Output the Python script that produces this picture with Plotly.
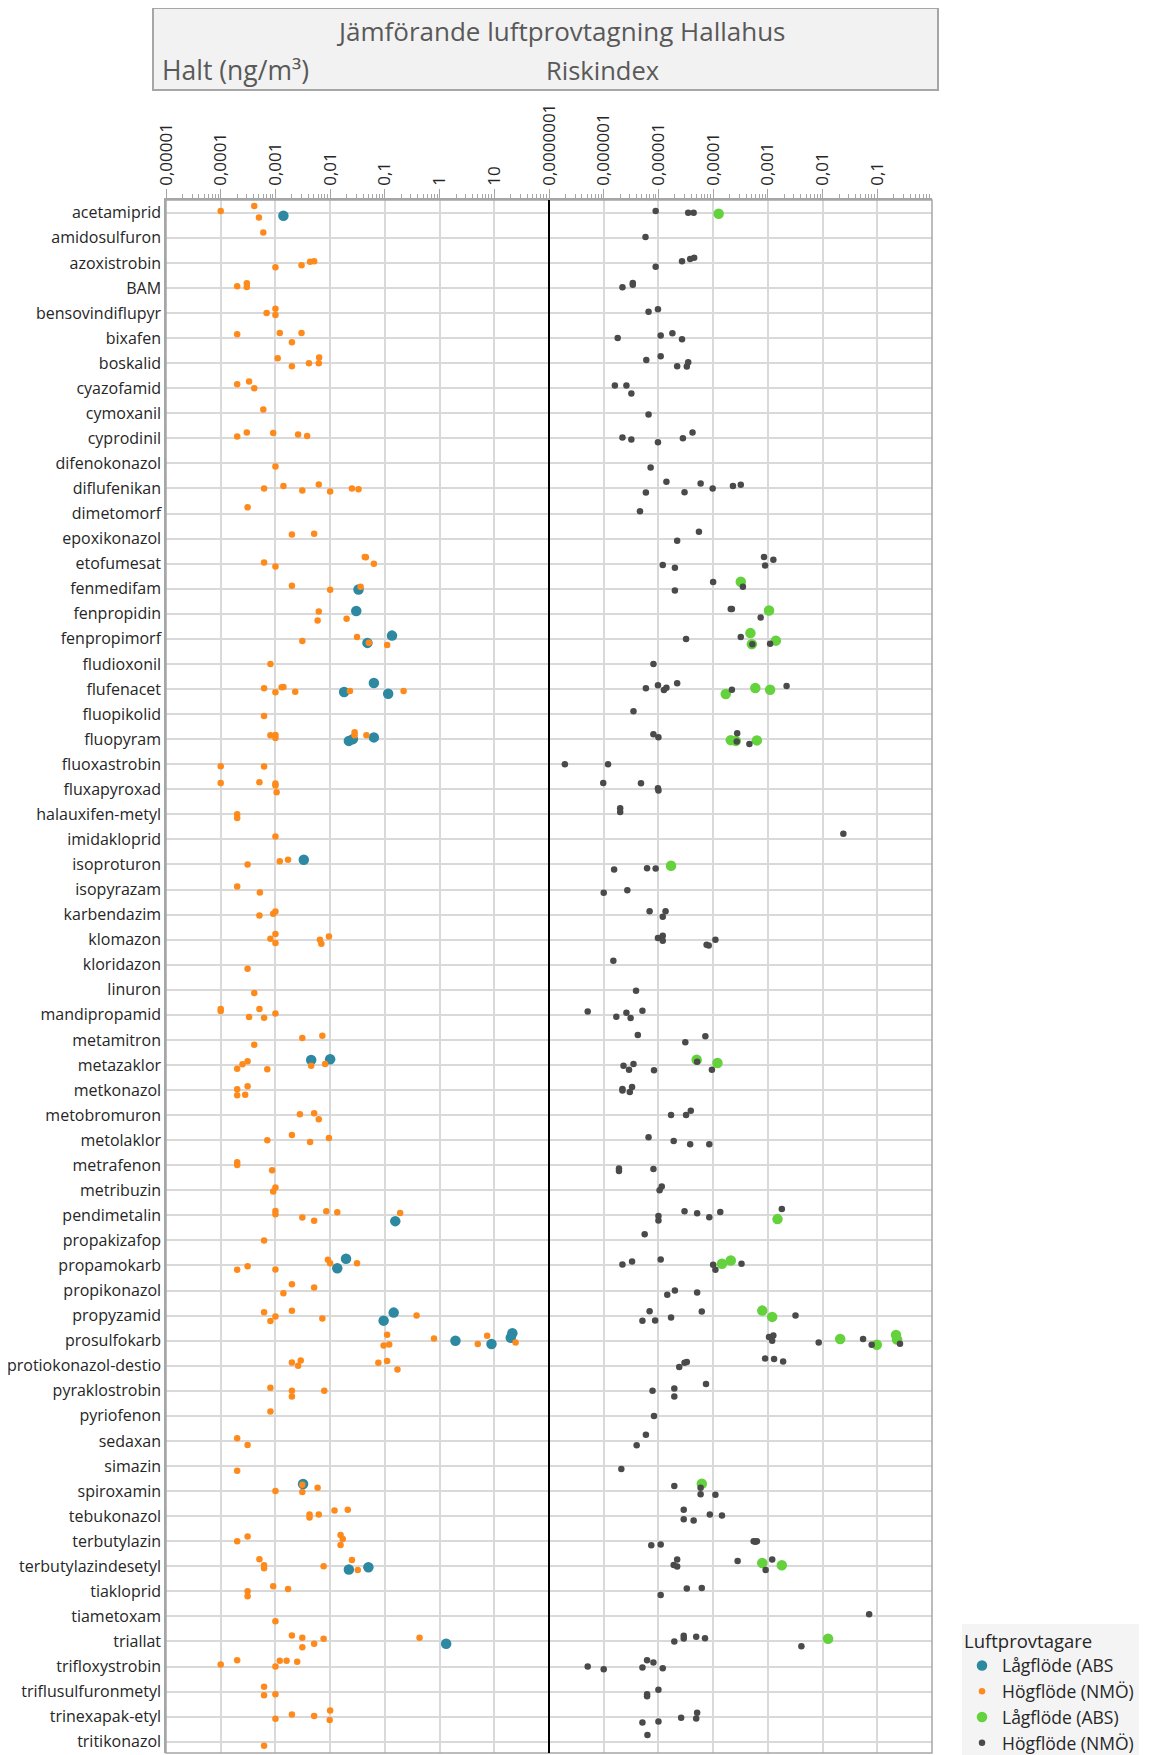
import plotly.graph_objects as go

categories = [
    "acetamiprid", "amidosulfuron", "azoxistrobin", "BAM", "bensovindiflupyr", "bixafen",
    "boskalid", "cyazofamid", "cymoxanil", "cyprodinil", "difenokonazol", "diflufenikan",
    "dimetomorf", "epoxikonazol", "etofumesat", "fenmedifam", "fenpropidin", "fenpropimorf",
    "fludioxonil", "flufenacet", "fluopikolid", "fluopyram", "fluoxastrobin", "fluxapyroxad",
    "halauxifen-metyl", "imidakloprid", "isoproturon", "isopyrazam", "karbendazim", "klomazon",
    "kloridazon", "linuron", "mandipropamid", "metamitron", "metazaklor", "metkonazol",
    "metobromuron", "metolaklor", "metrafenon", "metribuzin", "pendimetalin", "propakizafop",
    "propamokarb", "propikonazol", "propyzamid", "prosulfokarb", "protiokonazol-destio",
    "pyraklostrobin", "pyriofenon", "sedaxan", "simazin", "spiroxamin", "tebukonazol",
    "terbutylazin", "terbutylazindesetyl", "tiakloprid", "tiametoxam", "triallat",
    "trifloxystrobin", "triflusulfuronmetyl", "trinexapak-etyl", "tritikonazol",
]

# (substance, value, vertical jitter within the row)
# Halt (ng/m3) - Lågflöde (ABS)
halt_lagflode = [
    ("acetamiprid", 1.4e-3, 0.12),
    ("fenmedifam", 3.3e-2, 0.03),
    ("fenpropidin", 3.0e-2, -0.11),
    ("fenpropimorf", 4.8e-2, 0.16), ("fenpropimorf", 0.135, -0.13),
    ("flufenacet", 1.8e-2, 0.12), ("flufenacet", 6.3e-2, -0.24), ("flufenacet", 0.115, 0.19),
    ("fluopyram", 2.2e-2, 0.07), ("fluopyram", 2.6e-2, 0.0), ("fluopyram", 6.3e-2, -0.07),
    ("isoproturon", 3.3e-3, -0.19),
    ("metazaklor", 4.5e-3, -0.20), ("metazaklor", 1.0e-2, -0.23),
    ("pendimetalin", 0.155, 0.23),
    ("propamokarb", 1.35e-2, 0.11), ("propamokarb", 1.95e-2, -0.27),
    ("propyzamid", 9.5e-2, 0.20), ("propyzamid", 0.145, -0.12),
    ("prosulfokarb", 1.95, 0.0), ("prosulfokarb", 8.9, 0.13), ("prosulfokarb", 21.4, -0.30),
    ("prosulfokarb", 20.0, -0.12),
    ("spiroxamin", 3.2e-3, -0.28),
    ("terbutylazindesetyl", 2.2e-2, 0.13), ("terbutylazindesetyl", 5.0e-2, 0.04),
    ("triallat", 1.32, 0.09),
]

# Halt (ng/m3) - Högflöde (NMÖ)
halt_hogflode = [
    ("acetamiprid", 1.0e-4, -0.07), ("acetamiprid", 4.1e-4, -0.27), ("acetamiprid", 5.0e-4, 0.19),
    ("amidosulfuron", 6.0e-4, -0.21),
    ("azoxistrobin", 1.0e-3, 0.17), ("azoxistrobin", 3.0e-3, 0.09), ("azoxistrobin", 4.3e-3, -0.05),
    ("azoxistrobin", 5.1e-3, -0.07),
    ("BAM", 2.0e-4, -0.07), ("BAM", 3.0e-4, -0.19), ("BAM", 3.0e-4, -0.04),
    ("bensovindiflupyr", 1.0e-3, -0.17), ("bensovindiflupyr", 6.9e-4, 0.0), ("bensovindiflupyr", 1.0e-3, 0.08),
    ("bixafen", 2.0e-4, -0.15), ("bixafen", 1.2e-3, -0.20), ("bixafen", 3.0e-3, -0.20), ("bixafen", 2.0e-3, 0.17),
    ("boskalid", 1.1e-3, -0.20), ("boskalid", 6.3e-3, -0.23), ("boskalid", 4.1e-3, 0.0),
    ("boskalid", 6.2e-3, 0.0), ("boskalid", 2.0e-3, 0.12),
    ("cyazofamid", 2.0e-4, -0.16), ("cyazofamid", 3.3e-4, -0.27), ("cyazofamid", 4.1e-4, 0.0),
    ("cymoxanil", 6.0e-4, -0.15),
    ("cyprodinil", 2.0e-4, -0.07), ("cyprodinil", 3.0e-4, -0.23), ("cyprodinil", 9.1e-4, -0.21),
    ("cyprodinil", 2.6e-3, -0.15), ("cyprodinil", 3.8e-3, -0.09),
    ("difenokonazol", 1.0e-3, 0.12),
    ("diflufenikan", 6.2e-4, 0.0), ("diflufenikan", 1.4e-3, -0.10), ("diflufenikan", 3.1e-3, 0.08),
    ("diflufenikan", 6.2e-3, -0.16), ("diflufenikan", 1.0e-2, 0.12), ("diflufenikan", 2.5e-2, 0.0),
    ("diflufenikan", 3.3e-2, 0.03),
    ("dimetomorf", 3.1e-4, -0.25),
    ("epoxikonazol", 2.0e-3, -0.16), ("epoxikonazol", 5.1e-3, -0.19),
    ("etofumesat", 6.2e-4, -0.05), ("etofumesat", 1.0e-3, 0.11), ("etofumesat", 4.3e-2, -0.27),
    ("etofumesat", 4.5e-2, -0.26), ("etofumesat", 6.3e-2, 0.0),
    ("fenmedifam", 2.0e-3, -0.12), ("fenmedifam", 1.0e-2, 0.04), ("fenmedifam", 3.6e-2, -0.08),
    ("fenpropidin", 6.2e-3, -0.09), ("fenpropidin", 5.9e-3, 0.27), ("fenpropidin", 2.0e-2, 0.20),
    ("fenpropimorf", 3.1e-3, 0.08), ("fenpropimorf", 3.1e-2, -0.08), ("fenpropimorf", 5.1e-2, 0.15),
    ("fenpropimorf", 0.11, 0.24),
    ("fludioxonil", 8.1e-4, 0.0),
    ("flufenacet", 6.2e-4, -0.03), ("flufenacet", 1.0e-3, 0.13), ("flufenacet", 1.3e-3, -0.07),
    ("flufenacet", 1.4e-3, -0.08), ("flufenacet", 2.3e-3, 0.11), ("flufenacet", 2.3e-2, 0.08),
    ("flufenacet", 0.22, 0.08),
    ("fluopikolid", 6.2e-4, 0.08),
    ("fluopyram", 8.1e-4, -0.16), ("fluopyram", 1.0e-3, -0.17), ("fluopyram", 1.0e-3, -0.05),
    ("fluopyram", 2.8e-2, -0.27), ("fluopyram", 2.8e-2, -0.16), ("fluopyram", 4.6e-2, -0.16),
    ("fluoxastrobin", 1.0e-4, 0.08), ("fluoxastrobin", 6.2e-4, 0.09),
    ("fluxapyroxad", 1.0e-4, -0.25), ("fluxapyroxad", 5.1e-4, -0.28), ("fluxapyroxad", 1.0e-3, -0.23),
    ("fluxapyroxad", 1.0e-3, -0.15), ("fluxapyroxad", 1.05e-3, 0.12),
    ("halauxifen-metyl", 2.0e-4, 0.0), ("halauxifen-metyl", 2.0e-4, 0.15),
    ("imidakloprid", 1.0e-3, -0.12),
    ("isoproturon", 3.1e-4, 0.0), ("isoproturon", 1.2e-3, -0.13), ("isoproturon", 1.7e-3, -0.19),
    ("isopyrazam", 2.0e-4, -0.12), ("isopyrazam", 5.2e-4, 0.12),
    ("karbendazim", 5.1e-4, 0.04), ("karbendazim", 9.1e-4, -0.03), ("karbendazim", 1.0e-3, -0.12),
    ("klomazon", 1.0e-3, -0.23), ("klomazon", 8.1e-4, -0.04), ("klomazon", 1.0e-3, 0.13),
    ("klomazon", 6.5e-3, 0.0), ("klomazon", 6.9e-3, 0.16), ("klomazon", 9.5e-3, -0.13),
    ("kloridazon", 3.1e-4, 0.16),
    ("linuron", 4.1e-4, 0.13),
    ("mandipropamid", 1.0e-4, -0.23), ("mandipropamid", 1.0e-4, -0.15), ("mandipropamid", 5.1e-4, -0.23),
    ("mandipropamid", 3.3e-4, 0.09), ("mandipropamid", 6.2e-4, 0.12), ("mandipropamid", 1.0e-3, -0.05),
    ("metamitron", 4.1e-4, 0.19), ("metamitron", 3.1e-3, -0.08), ("metamitron", 7.2e-3, -0.17),
    ("metazaklor", 2.0e-4, 0.15), ("metazaklor", 2.5e-4, -0.03), ("metazaklor", 3.1e-4, -0.15),
    ("metazaklor", 7.1e-4, 0.17), ("metazaklor", 4.5e-3, 0.03), ("metazaklor", 8.1e-3, -0.04),
    ("metkonazol", 2.0e-4, -0.03), ("metkonazol", 2.0e-4, 0.21), ("metkonazol", 2.8e-4, 0.19),
    ("metkonazol", 3.1e-4, -0.15),
    ("metobromuron", 2.8e-3, -0.03), ("metobromuron", 5.1e-3, -0.07), ("metobromuron", 6.2e-3, 0.17),
    ("metolaklor", 7.1e-4, 0.0), ("metolaklor", 2.0e-3, -0.21), ("metolaklor", 4.3e-3, 0.07),
    ("metolaklor", 9.5e-3, -0.09),
    ("metrafenon", 2.0e-4, -0.12), ("metrafenon", 2.0e-4, -0.01), ("metrafenon", 8.7e-4, 0.20),
    ("metribuzin", 1.0e-3, -0.11), ("metribuzin", 9.1e-4, 0.05),
    ("pendimetalin", 1.0e-3, -0.17), ("pendimetalin", 1.0e-3, -0.04), ("pendimetalin", 3.1e-3, 0.09),
    ("pendimetalin", 5.1e-3, 0.21), ("pendimetalin", 8.5e-3, -0.16), ("pendimetalin", 1.35e-2, -0.12),
    ("pendimetalin", 0.19, -0.09),
    ("propakizafop", 6.2e-4, 0.0),
    ("propamokarb", 2.0e-4, 0.17), ("propamokarb", 3.1e-4, 0.03), ("propamokarb", 1.0e-3, 0.16),
    ("propamokarb", 9.1e-3, -0.23), ("propamokarb", 1.0e-2, -0.09), ("propamokarb", 3.1e-2, -0.09),
    ("propikonazol", 2.0e-3, -0.25), ("propikonazol", 5.1e-3, -0.12), ("propikonazol", 1.4e-3, 0.11),
    ("propyzamid", 6.2e-4, -0.13), ("propyzamid", 1.0e-3, 0.03), ("propyzamid", 8.1e-4, 0.21),
    ("propyzamid", 2.0e-3, -0.19), ("propyzamid", 7.2e-3, 0.11), ("propyzamid", 0.38, 0.0),
    ("prosulfokarb", 0.11, -0.24), ("prosulfokarb", 0.12, 0.15), ("prosulfokarb", 0.095, 0.19),
    ("prosulfokarb", 0.79, -0.09), ("prosulfokarb", 5.0, 0.13), ("prosulfokarb", 7.4, -0.20),
    ("prosulfokarb", 24.5, 0.07),
    ("protiokonazol-destio", 2.0e-3, -0.13), ("protiokonazol-destio", 2.9e-3, -0.21),
    ("protiokonazol-destio", 2.6e-3, 0.0), ("protiokonazol-destio", 7.6e-2, -0.12),
    ("protiokonazol-destio", 0.11, -0.19), ("protiokonazol-destio", 0.17, 0.15),
    ("pyraklostrobin", 8.1e-4, -0.12), ("pyraklostrobin", 2.0e-3, 0.0), ("pyraklostrobin", 2.0e-3, 0.23),
    ("pyraklostrobin", 7.8e-3, 0.0),
    ("pyriofenon", 8.1e-4, -0.17),
    ("sedaxan", 2.0e-4, -0.11), ("sedaxan", 3.1e-4, 0.16),
    ("simazin", 2.0e-4, 0.19),
    ("spiroxamin", 1.0e-3, 0.0), ("spiroxamin", 3.1e-3, -0.25), ("spiroxamin", 3.1e-3, 0.04),
    ("spiroxamin", 5.9e-3, -0.13),
    ("tebukonazol", 4.2e-3, -0.07), ("tebukonazol", 4.2e-3, 0.05), ("tebukonazol", 6.2e-3, -0.07),
    ("tebukonazol", 1.2e-2, -0.23), ("tebukonazol", 2.1e-2, -0.25),
    ("terbutylazin", 2.0e-4, 0.0), ("terbutylazin", 3.1e-4, -0.19), ("terbutylazin", 1.55e-2, -0.25),
    ("terbutylazin", 1.7e-2, -0.09), ("terbutylazin", 1.55e-2, 0.15),
    ("terbutylazindesetyl", 5.1e-4, -0.28), ("terbutylazindesetyl", 6.2e-4, -0.04),
    ("terbutylazindesetyl", 6.2e-4, 0.08), ("terbutylazindesetyl", 7.6e-3, 0.0),
    ("terbutylazindesetyl", 2.5e-2, -0.25), ("terbutylazindesetyl", 3.2e-2, 0.15),
    ("tiakloprid", 9.1e-4, -0.20), ("tiakloprid", 1.7e-3, -0.09), ("tiakloprid", 3.1e-4, 0.0),
    ("tiakloprid", 3.1e-4, 0.20),
    ("tiametoxam", 1.0e-3, 0.19),
    ("triallat", 2.0e-3, -0.24), ("triallat", 3.1e-3, -0.15), ("triallat", 7.6e-3, -0.11),
    ("triallat", 5.1e-3, 0.09), ("triallat", 3.1e-3, 0.23), ("triallat", 0.43, -0.15),
    ("trifloxystrobin", 1.0e-4, -0.08), ("trifloxystrobin", 2.0e-4, -0.25), ("trifloxystrobin", 1.2e-3, -0.23),
    ("trifloxystrobin", 1.6e-3, -0.23), ("trifloxystrobin", 2.5e-3, -0.19), ("trifloxystrobin", 1.0e-3, 0.0),
    ("triflusulfuronmetyl", 6.2e-4, -0.19), ("triflusulfuronmetyl", 6.2e-4, 0.15),
    ("triflusulfuronmetyl", 1.0e-3, 0.11),
    ("trinexapak-etyl", 1.0e-3, 0.08), ("trinexapak-etyl", 2.0e-3, -0.09), ("trinexapak-etyl", 5.1e-3, -0.03),
    ("trinexapak-etyl", 1.0e-2, -0.25), ("trinexapak-etyl", 9.8e-3, 0.13),
    ("tritikonazol", 6.2e-4, 0.16),
]

# Riskindex - Lågflöde (ABS)
risk_lagflode = [
    ("acetamiprid", 1.26e-4, 0.04),
    ("fenmedifam", 3.2e-4, -0.28),
    ("fenpropidin", 1.05e-3, -0.13),
    ("fenpropimorf", 4.8e-4, -0.23), ("fenpropimorf", 5.1e-4, 0.21), ("fenpropimorf", 1.4e-3, 0.07),
    ("flufenacet", 1.7e-4, 0.20), ("flufenacet", 5.9e-4, -0.04), ("flufenacet", 1.1e-3, 0.03),
    ("fluopyram", 2.1e-4, 0.04), ("fluopyram", 2.6e-4, 0.07), ("fluopyram", 6.3e-4, 0.05),
    ("isoproturon", 1.7e-5, 0.05),
    ("metazaklor", 5.0e-5, -0.21), ("metazaklor", 1.2e-4, -0.08),
    ("pendimetalin", 1.5e-3, 0.15),
    ("propamokarb", 1.45e-4, -0.07), ("propamokarb", 2.1e-4, -0.20),
    ("propyzamid", 7.9e-4, -0.20), ("propyzamid", 1.2e-3, 0.05),
    ("prosulfokarb", 2.1e-2, -0.07), ("prosulfokarb", 9.8e-2, 0.16), ("prosulfokarb", 0.22, -0.23),
    ("prosulfokarb", 0.23, -0.05),
    ("spiroxamin", 6.2e-5, -0.29),
    ("terbutylazindesetyl", 7.9e-4, -0.13), ("terbutylazindesetyl", 1.8e-3, -0.04),
    ("triallat", 1.26e-2, -0.11),
]

# Riskindex - Högflöde (NMÖ)
risk_hogflode = [
    ("acetamiprid", 8.9e-6, -0.07), ("acetamiprid", 3.5e-5, 0.0), ("acetamiprid", 4.4e-5, 0.0),
    ("amidosulfuron", 5.8e-6, -0.03),
    ("azoxistrobin", 8.9e-6, 0.15), ("azoxistrobin", 2.7e-5, -0.07), ("azoxistrobin", 3.8e-5, -0.16),
    ("azoxistrobin", 4.5e-5, -0.21),
    ("BAM", 2.2e-6, -0.03), ("BAM", 3.4e-6, -0.20), ("BAM", 3.4e-6, -0.13),
    ("bensovindiflupyr", 6.6e-6, -0.05), ("bensovindiflupyr", 9.8e-6, -0.15),
    ("bixafen", 1.8e-6, 0.0), ("bixafen", 1.1e-5, -0.10), ("bixafen", 1.8e-5, -0.19), ("bixafen", 2.7e-5, 0.05),
    ("boskalid", 6.0e-6, -0.13), ("boskalid", 1.1e-5, -0.28), ("boskalid", 3.5e-5, -0.04),
    ("boskalid", 3.3e-5, 0.13), ("boskalid", 2.2e-5, 0.12),
    ("cyazofamid", 1.6e-6, -0.11), ("cyazofamid", 2.6e-6, -0.11), ("cyazofamid", 3.2e-6, 0.21),
    ("cymoxanil", 6.6e-6, 0.05),
    ("cyprodinil", 2.2e-6, -0.03), ("cyprodinil", 3.2e-6, 0.05), ("cyprodinil", 9.8e-6, 0.16),
    ("cyprodinil", 2.8e-5, 0.0), ("cyprodinil", 4.2e-5, -0.23),
    ("difenokonazol", 7.2e-6, 0.16),
    ("diflufenikan", 1.4e-5, -0.27), ("diflufenikan", 5.9e-6, 0.16), ("diflufenikan", 3.0e-5, 0.15),
    ("diflufenikan", 5.9e-5, -0.20), ("diflufenikan", 9.8e-5, 0.0), ("diflufenikan", 2.3e-4, -0.10),
    ("diflufenikan", 3.2e-4, -0.15),
    ("dimetomorf", 4.6e-6, -0.09),
    ("epoxikonazol", 5.5e-5, -0.27), ("epoxikonazol", 2.2e-5, 0.08),
    ("etofumesat", 8.5e-4, -0.27), ("etofumesat", 1.26e-3, -0.16), ("etofumesat", 8.9e-4, 0.07),
    ("etofumesat", 1.2e-5, 0.05), ("etofumesat", 2.0e-5, 0.16),
    ("fenmedifam", 1.0e-4, -0.27), ("fenmedifam", 2.0e-5, 0.07), ("fenmedifam", 3.5e-4, -0.08),
    ("fenpropidin", 2.1e-4, -0.19), ("fenpropidin", 2.2e-4, -0.19), ("fenpropidin", 7.4e-4, 0.15),
    ("fenpropimorf", 3.2e-5, 0.0), ("fenpropimorf", 3.2e-4, -0.08), ("fenpropimorf", 5.2e-4, 0.21),
    ("fenpropimorf", 1.1e-3, 0.19),
    ("fludioxonil", 8.1e-6, 0.0),
    ("flufenacet", 5.9e-6, -0.03), ("flufenacet", 9.8e-6, -0.15), ("flufenacet", 1.26e-5, 0.04),
    ("flufenacet", 1.4e-5, -0.05), ("flufenacet", 2.2e-5, -0.23), ("flufenacet", 2.2e-4, 0.03),
    ("flufenacet", 2.2e-3, -0.12),
    ("fluopikolid", 3.5e-6, -0.11),
    ("fluopyram", 8.1e-6, -0.20), ("fluopyram", 1.0e-5, -0.08), ("fluopyram", 2.75e-4, -0.23),
    ("fluopyram", 2.7e-4, 0.09), ("fluopyram", 4.6e-4, 0.19),
    ("fluoxastrobin", 1.95e-7, 0.0), ("fluoxastrobin", 1.2e-6, 0.0),
    ("fluxapyroxad", 9.8e-7, -0.25), ("fluxapyroxad", 4.8e-6, -0.24), ("fluxapyroxad", 9.8e-6, -0.04),
    ("fluxapyroxad", 1.0e-5, 0.05),
    ("halauxifen-metyl", 2.0e-6, -0.24), ("halauxifen-metyl", 2.0e-6, -0.09),
    ("imidakloprid", 2.4e-2, -0.23),
    ("isoproturon", 1.55e-6, 0.20), ("isoproturon", 6.2e-6, 0.15), ("isoproturon", 8.9e-6, 0.16),
    ("isopyrazam", 1.0e-6, 0.13), ("isopyrazam", 2.7e-6, 0.03),
    ("karbendazim", 6.9e-6, -0.13), ("karbendazim", 1.35e-5, -0.13), ("karbendazim", 1.2e-5, 0.09),
    ("klomazon", 9.8e-6, -0.07), ("klomazon", 1.2e-5, -0.16), ("klomazon", 1.2e-5, 0.04),
    ("klomazon", 7.6e-5, 0.20), ("klomazon", 8.3e-5, 0.23), ("klomazon", 1.1e-4, 0.0),
    ("kloridazon", 1.5e-6, -0.16),
    ("linuron", 3.9e-6, 0.04),
    ("mandipropamid", 5.1e-7, -0.13), ("mandipropamid", 1.7e-6, 0.08), ("mandipropamid", 2.6e-6, -0.08),
    ("mandipropamid", 3.1e-6, 0.13), ("mandipropamid", 5.1e-6, -0.16),
    ("metamitron", 4.2e-6, -0.20), ("metamitron", 3.1e-5, 0.09), ("metamitron", 7.2e-5, -0.15),
    ("metazaklor", 2.3e-6, 0.03), ("metazaklor", 2.9e-6, 0.19), ("metazaklor", 3.5e-6, -0.04),
    ("metazaklor", 8.3e-6, 0.21), ("metazaklor", 5.1e-5, -0.13), ("metazaklor", 9.5e-5, 0.19),
    ("metkonazol", 2.2e-6, -0.04), ("metkonazol", 2.2e-6, 0.02), ("metkonazol", 3.0e-6, 0.08),
    ("metkonazol", 3.3e-6, -0.12),
    ("metobromuron", 1.7e-5, 0.0), ("metobromuron", 3.2e-5, 0.0), ("metobromuron", 3.9e-5, -0.17),
    ("metolaklor", 6.6e-6, -0.12), ("metolaklor", 1.9e-5, 0.03), ("metolaklor", 3.8e-5, 0.16),
    ("metolaklor", 8.5e-5, 0.16),
    ("metrafenon", 1.9e-6, 0.13), ("metrafenon", 1.9e-6, 0.23), ("metrafenon", 8.1e-6, 0.15),
    ("metribuzin", 1.15e-5, -0.15), ("metribuzin", 1.05e-5, 0.0),
    ("pendimetalin", 1.0e-5, 0.03), ("pendimetalin", 1.0e-5, 0.20), ("pendimetalin", 3.0e-5, -0.16),
    ("pendimetalin", 5.1e-5, -0.08), ("pendimetalin", 8.5e-5, 0.08), ("pendimetalin", 1.35e-4, -0.13),
    ("pendimetalin", 1.8e-3, -0.25),
    ("propakizafop", 5.6e-6, -0.25),
    ("propamokarb", 2.2e-6, -0.04), ("propamokarb", 3.3e-6, -0.16), ("propamokarb", 1.1e-5, -0.24),
    ("propamokarb", 1.0e-4, -0.03), ("propamokarb", 1.1e-4, 0.17), ("propamokarb", 3.3e-4, -0.07),
    ("propikonazol", 2.0e-5, 0.0), ("propikonazol", 1.45e-5, 0.17), ("propikonazol", 5.1e-5, 0.08),
    ("propyzamid", 6.9e-6, -0.17), ("propyzamid", 5.1e-6, 0.20), ("propyzamid", 8.7e-6, 0.19),
    ("propyzamid", 1.7e-5, 0.07), ("propyzamid", 6.2e-5, -0.16), ("propyzamid", 3.2e-3, 0.0),
    ("prosulfokarb", 1.05e-3, -0.15), ("prosulfokarb", 1.26e-3, -0.21), ("prosulfokarb", 1.2e-3, 0.0),
    ("prosulfokarb", 8.5e-3, 0.07), ("prosulfokarb", 5.5e-2, -0.07), ("prosulfokarb", 7.9e-2, 0.16),
    ("prosulfokarb", 0.26, 0.12),
    ("protiokonazol-destio", 2.4e-5, 0.05), ("protiokonazol-destio", 3.0e-5, -0.12),
    ("protiokonazol-destio", 3.3e-5, -0.15), ("protiokonazol-destio", 8.9e-4, -0.29),
    ("protiokonazol-destio", 1.3e-3, -0.27), ("protiokonazol-destio", 1.9e-3, -0.17),
    ("pyraklostrobin", 7.8e-6, 0.0), ("pyraklostrobin", 1.95e-5, -0.09), ("pyraklostrobin", 1.95e-5, 0.23),
    ("pyraklostrobin", 7.4e-5, -0.27),
    ("pyriofenon", 8.3e-6, 0.0),
    ("sedaxan", 5.9e-6, -0.25), ("sedaxan", 4.0e-6, 0.17),
    ("simazin", 2.1e-6, 0.12),
    ("spiroxamin", 1.95e-5, -0.20), ("spiroxamin", 5.9e-5, -0.13), ("spiroxamin", 5.9e-5, 0.13),
    ("spiroxamin", 1.1e-4, 0.15),
    ("tebukonazol", 2.9e-5, -0.25), ("tebukonazol", 2.9e-5, 0.12), ("tebukonazol", 4.4e-5, 0.17),
    ("tebukonazol", 8.7e-5, -0.07), ("tebukonazol", 1.45e-4, -0.03),
    ("terbutylazin", 7.4e-6, 0.16), ("terbutylazin", 1.1e-5, 0.13), ("terbutylazin", 5.5e-4, 0.0),
    ("terbutylazin", 5.9e-4, 0.02), ("terbutylazin", 6.3e-4, 0.0),
    ("terbutylazindesetyl", 2.2e-5, -0.27), ("terbutylazindesetyl", 1.9e-5, -0.05),
    ("terbutylazindesetyl", 2.2e-5, 0.01), ("terbutylazindesetyl", 2.8e-4, -0.21),
    ("terbutylazindesetyl", 1.2e-3, -0.27), ("terbutylazindesetyl", 9.1e-4, 0.15),
    ("tiakloprid", 3.3e-5, -0.11), ("tiakloprid", 6.2e-5, -0.13), ("tiakloprid", 1.1e-5, 0.15),
    ("tiametoxam", 7.1e-2, -0.09),
    ("triallat", 1.95e-5, 0.0), ("triallat", 2.9e-5, -0.23), ("triallat", 2.9e-5, -0.12),
    ("triallat", 4.9e-5, -0.19), ("triallat", 7.1e-5, -0.13), ("triallat", 4.1e-3, 0.19),
    ("trifloxystrobin", 5.1e-7, 0.0), ("trifloxystrobin", 1.0e-6, 0.11), ("trifloxystrobin", 5.1e-6, 0.04),
    ("trifloxystrobin", 6.2e-6, -0.25), ("trifloxystrobin", 8.1e-6, -0.16), ("trifloxystrobin", 1.2e-5, 0.07),
    ("triflusulfuronmetyl", 1.0e-5, -0.07), ("triflusulfuronmetyl", 6.2e-6, 0.11),
    ("triflusulfuronmetyl", 6.2e-6, 0.19),
    ("trinexapak-etyl", 5.1e-6, 0.23), ("trinexapak-etyl", 1.0e-5, 0.19), ("trinexapak-etyl", 2.6e-5, 0.04),
    ("trinexapak-etyl", 4.9e-5, 0.07), ("trinexapak-etyl", 5.1e-5, -0.16),
    ("tritikonazol", 6.3e-6, -0.27),
]

halt_tickvals = [1e-5, 1e-4, 1e-3, 1e-2, 1e-1, 1, 10]
halt_ticktext = ["0,00001", "0,0001", "0,001", "0,01", "0,1", "1", "10"]
risk_tickvals = [1e-7, 1e-6, 1e-5, 1e-4, 1e-3, 1e-2, 1e-1]
risk_ticktext = ["0,0000001", "0,000001", "0,00001", "0,0001", "0,001", "0,01", "0,1"]

title_text = "Jämförande luftprovtagning Hallahus"
left_title = "Halt (ng/m³)"
right_title = "Riskindex"
legend_title = "Luftprovtagare"

# ---------------------------------------------------------------
FONT = "Open Sans, Noto Sans, sans-serif"
PAGE = 8                      # default body margin of the html page
WIN_W, WIN_H = 1151, 1755
W, H = WIN_W - PAGE, WIN_H - PAGE
PLOT_L, PLOT_R, PLOT_T, PLOT_B = 166, 932, 200, 1753   # plot area in window pixels
ML, MR, MT, MB = PLOT_L - PAGE, WIN_W - PLOT_R, PLOT_T - PAGE, WIN_H - PLOT_B
PW, PH = PLOT_R - PLOT_L, PLOT_B - PLOT_T

def px(x):
    return (x - PLOT_L) / PW

def py(y):
    return (PLOT_B - y) / PH

row = {c: i for i, c in enumerate(categories)}

def xy(series):
    return [v for c, v, j in series], [row[c] + j for c, v, j in series]

TEAL, ORANGE, GREEN, GRAY = "#2D88A2", "#FF8A1C", "#63D23C", "#4A4A4A"
GRID, AXIS = "#D9D9D9", "#A6A6A6"

fig = go.Figure()
for series, name, color, size, xa in [
    (halt_lagflode, "Lågflöde (ABS", TEAL, 10.5, "x"),
    (halt_hogflode, "Högflöde (NMÖ)", ORANGE, 6.5, "x"),
    (risk_lagflode, "Lågflöde (ABS)", GREEN, 10.5, "x2"),
    (risk_hogflode, "Högflöde (NMÖ)", GRAY, 6.5, "x2"),
]:
    xs, ys = xy(series)
    fig.add_trace(go.Scatter(x=xs, y=ys, mode="markers", name=name, xaxis=xa, yaxis="y",
                             marker=dict(color=color, size=size, line=dict(width=0)),
                             cliponaxis=False))

def minor_vals(lo, hi):
    return [m * 10.0 ** k for k in range(lo, hi) for m in range(2, 10)]

common_x = dict(type="log", side="top", anchor="y", tickmode="array", tickangle=-90,
                ticks="outside", ticklen=9, tickwidth=1, tickcolor=AXIS,
                showgrid=True, gridcolor=GRID, gridwidth=1.5, zeroline=False,
                showline=True, linecolor=AXIS, linewidth=1.5,
                tickfont=dict(family=FONT, size=17, color="#262626"))

fig.update_layout(
    width=W, height=H,
    margin=dict(l=ML, r=MR, t=MT, b=MB, autoexpand=False),
    paper_bgcolor="white", plot_bgcolor="white",
    font=dict(family=FONT, color="#262626"),
    xaxis=dict(domain=[0, 0.5], range=[-5, 2], tickvals=halt_tickvals, ticktext=halt_ticktext,
               minor=dict(tickmode="array", tickvals=minor_vals(-5, 2), ticks="outside",
                          ticklen=4, tickcolor=AXIS, showgrid=False),
               **common_x),
    xaxis2=dict(domain=[0.5, 1], range=[-7, 0], tickvals=risk_tickvals, ticktext=risk_ticktext,
                minor=dict(tickmode="array", tickvals=minor_vals(-7, 0), ticks="outside",
                           ticklen=4, tickcolor=AXIS, showgrid=False),
                **common_x),
    yaxis=dict(range=[61.45, -0.51], tickmode="array", tickvals=list(range(len(categories))),
               ticktext=categories, showgrid=True, gridcolor=GRID, gridwidth=1.5,
               zeroline=False, showline=True, linecolor=AXIS, linewidth=1.5, ticks="",
               tickfont=dict(family=FONT, size=16, color="#262626"), anchor="x"),
    showlegend=True,
    legend=dict(title=dict(text=legend_title, font=dict(size=18.5, color="#262626")),
                font=dict(family=FONT, size=17.5, color="#262626"),
                bgcolor="#F4F4F4", x=px(962), y=py(1761.5), xanchor="left", yanchor="bottom",
                itemsizing="trace", tracegroupgap=0),
    shapes=[
        dict(type="rect", xref="paper", yref="paper", x0=px(153), x1=px(938), y0=py(90), y1=py(8),
             fillcolor="#F2F2F2", line=dict(color=AXIS, width=2), layer="below"),
        dict(type="rect", xref="paper", yref="paper", x0=0, x1=1, y0=0, y1=1,
             line=dict(color=AXIS, width=1.5), layer="above"),
        dict(type="line", xref="paper", yref="paper", x0=0.5, x1=0.5, y0=0, y1=1,
             line=dict(color="black", width=2), layer="above"),
    ],
    annotations=[
        dict(text=title_text, xref="paper", yref="paper", x=px(560), y=py(31),
             xanchor="center", yanchor="middle", showarrow=False,
             font=dict(family=FONT, size=26, color="#595959")),
        dict(text=left_title, xref="paper", yref="paper", x=px(160), y=py(70),
             xanchor="left", yanchor="middle", showarrow=False,
             font=dict(family=FONT, size=26.5, color="#595959")),
        dict(text=right_title, xref="paper", yref="paper", x=px(544), y=py(70),
             xanchor="left", yanchor="middle", showarrow=False,
             font=dict(family=FONT, size=25.5, color="#595959")),
    ],
)

fig.write_html("out.html")
